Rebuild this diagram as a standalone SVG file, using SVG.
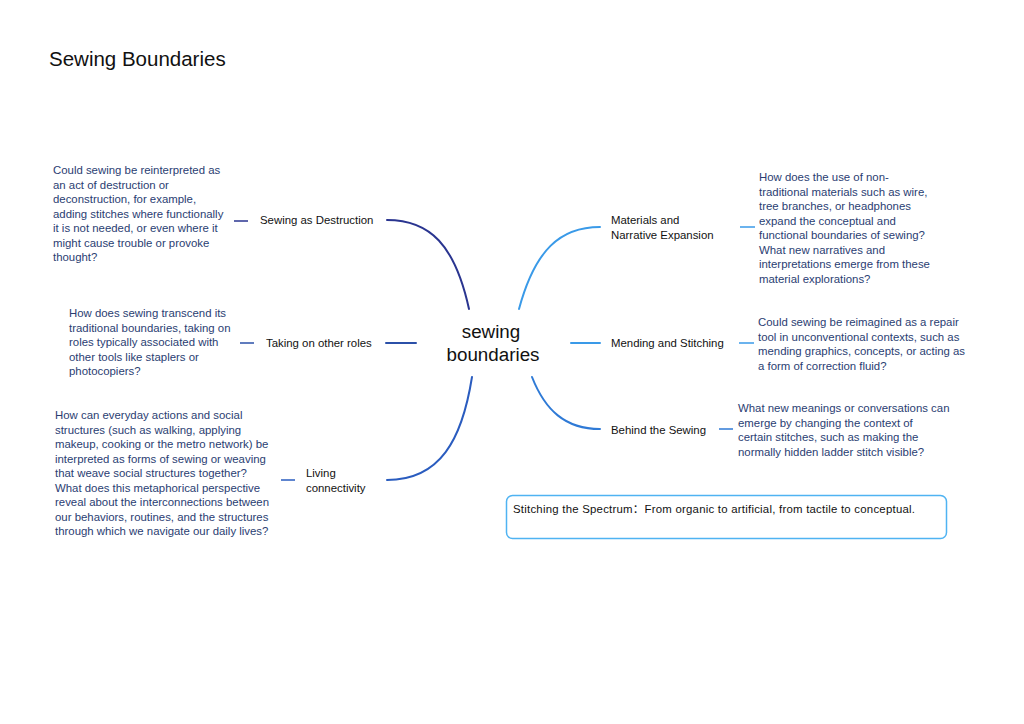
<svg xmlns="http://www.w3.org/2000/svg" width="1024" height="724" viewBox="0 0 1024 724">
<style>
text{font-family:"Liberation Sans","Noto Sans CJK SC",sans-serif;}
.title{font-size:20.5px;fill:#111;}
.center{font-size:18.8px;fill:#111;text-anchor:middle;}
.lbl{font-size:11.4px;fill:#111;}
.desc{font-size:11.4px;fill:#2a3d72;}
.br{fill:none;stroke-width:2;stroke-linecap:round;}
.stub{fill:none;stroke-width:1.5;}
</style>
<rect width="1024" height="724" fill="#fff"/>
<text class="title" x="49" y="66">Sewing Boundaries</text>
<g id="center"><text class="center" x="491" y="338">sewing</text><text class="center" x="493" y="361">boundaries</text></g>
<g id="connectors">
<path class="br" stroke="#2a3590" d="M469,309 C455,245 430,220 387,220"/>
<path class="br" stroke="#2b50a8" d="M386,343 H416"/>
<path class="br" stroke="#2a5cbf" d="M472,377 C462,440 440,480 387,480"/>
<path class="br" stroke="#3a9ae8" d="M519,309 C535,250 560,227 600,227"/>
<path class="br" stroke="#3a9ae8" d="M571,343 H600"/>
<path class="br" stroke="#2f7ad6" d="M532,377 C545,410 565,429 600,429"/>
<path class="stub" stroke="#2a3590" d="M234,221 H248"/>
<path class="stub" stroke="#2b50a8" d="M240,343 H254"/>
<path class="stub" stroke="#2a5cbf" d="M281,480 H295"/>
<path class="stub" stroke="#3a9ae8" d="M740,227 H755"/>
<path class="stub" stroke="#3a9ae8" d="M739,343 H754"/>
<path class="stub" stroke="#2f7ad6" d="M719,429 H733"/>
</g>
<g id="n1"><text class="lbl" x="260" y="224">Sewing as Destruction</text>
<text class="desc" x="53"><tspan x="53" y="174">Could sewing be reinterpreted as</tspan><tspan x="53" y="188.5">an act of destruction or</tspan><tspan x="53" y="203">deconstruction, for example,</tspan><tspan x="53" y="217.5">adding stitches where functionally</tspan><tspan x="53" y="232">it is not needed, or even where it</tspan><tspan x="53" y="246.5">might cause trouble or provoke</tspan><tspan x="53" y="261">thought?</tspan></text></g>
<g id="n2"><text class="lbl" x="266" y="347">Taking on other roles</text>
<text class="desc"><tspan x="69" y="317">How does sewing transcend its</tspan><tspan x="69" y="331.5">traditional boundaries, taking on</tspan><tspan x="69" y="346">roles typically associated with</tspan><tspan x="69" y="360.5">other tools like staplers or</tspan><tspan x="69" y="375">photocopiers?</tspan></text></g>
<g id="n3"><text class="lbl"><tspan x="306" y="477">Living</tspan><tspan x="306" y="491.5">connectivity</tspan></text>
<text class="desc"><tspan x="55" y="419">How can everyday actions and social</tspan><tspan x="55" y="433.5">structures (such as walking, applying</tspan><tspan x="55" y="448">makeup, cooking or the metro network) be</tspan><tspan x="55" y="462.5">interpreted as forms of sewing or weaving</tspan><tspan x="55" y="477">that weave social structures together?</tspan><tspan x="55" y="491.5">What does this metaphorical perspective</tspan><tspan x="55" y="506">reveal about the interconnections between</tspan><tspan x="55" y="520.5">our behaviors, routines, and the structures</tspan><tspan x="55" y="535">through which we navigate our daily lives?</tspan></text></g>
<g id="n4"><text class="lbl"><tspan x="611" y="224">Materials and</tspan><tspan x="611" y="239">Narrative Expansion</tspan></text>
<text class="desc"><tspan x="759" y="181">How does the use of non-</tspan><tspan x="759" y="195.5">traditional materials such as wire,</tspan><tspan x="759" y="210">tree branches, or headphones</tspan><tspan x="759" y="224.5">expand the conceptual and</tspan><tspan x="759" y="239">functional boundaries of sewing?</tspan><tspan x="759" y="253.5">What new narratives and</tspan><tspan x="759" y="268">interpretations emerge from these</tspan><tspan x="759" y="282.5">material explorations?</tspan></text></g>
<g id="n5"><text class="lbl" x="611" y="347">Mending and Stitching</text>
<text class="desc"><tspan x="758" y="326">Could sewing be reimagined as a repair</tspan><tspan x="758" y="340.5">tool in unconventional contexts, such as</tspan><tspan x="758" y="355">mending graphics, concepts, or acting as</tspan><tspan x="758" y="369.5">a form of correction fluid?</tspan></text></g>
<g id="n6"><text class="lbl" x="611" y="434">Behind the Sewing</text>
<text class="desc"><tspan x="738" y="412">What new meanings or conversations can</tspan><tspan x="738" y="426.5">emerge by changing the context of</tspan><tspan x="738" y="441">certain stitches, such as making the</tspan><tspan x="738" y="455.5">normally hidden ladder stitch visible?</tspan></text></g>
<g id="note"><rect x="506.5" y="495.5" width="440" height="43" rx="6" fill="none" stroke="#4fb3f2" stroke-width="1.5"/>
<text class="lbl" x="513" y="513" textLength="402" lengthAdjust="spacing">Stitching the Spectrum：From organic to artificial, from tactile to conceptual.</text></g>
</svg>
